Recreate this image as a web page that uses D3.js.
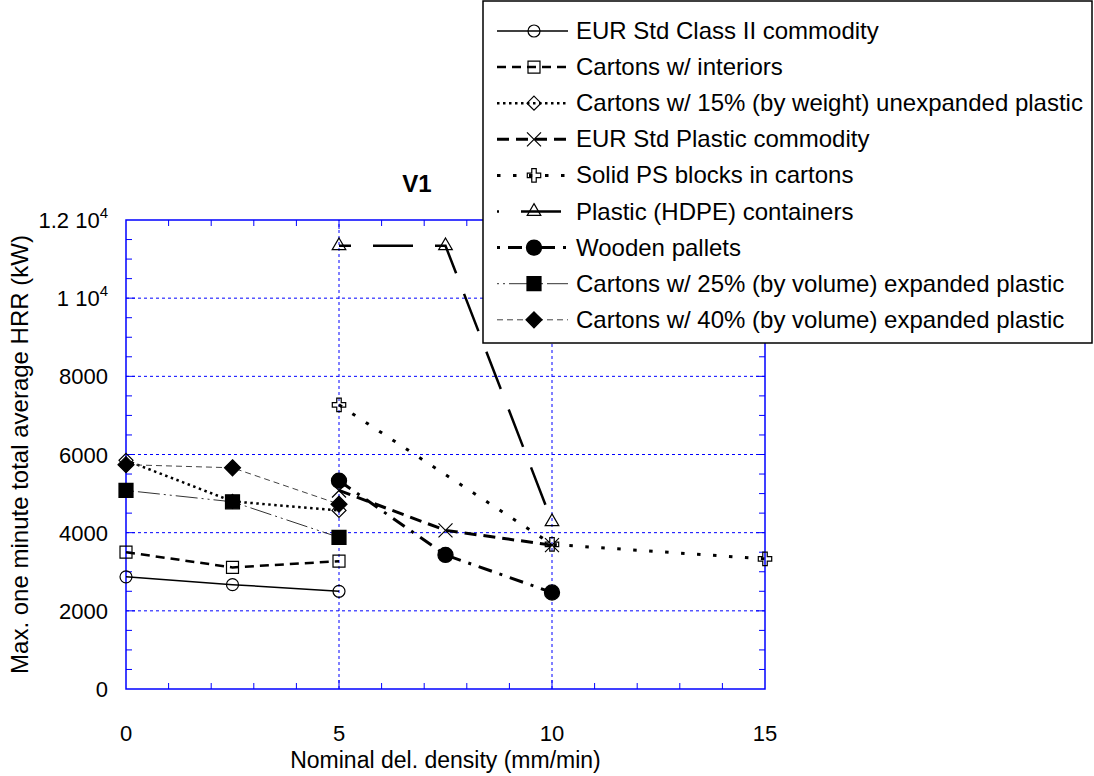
<!DOCTYPE html>
<meta charset="utf-8">
<script src="https://d3js.org/d3.v7.min.js"></script>
<style>
  body { margin: 0; background: #fff; }
  text { font-family: "Liberation Sans", Arial, sans-serif; fill: #000; }
</style>
<div id="chart"></div>
<script>

// data (x: mm/min, y: kW)
var seriesNames = [
  "EUR Std Class II commodity",
  "Cartons w/ interiors",
  "Cartons w/ 15% (by weight) unexpanded plastic",
  "EUR Std Plastic commodity",
  "Solid PS blocks in cartons",
  "Plastic (HDPE) containers",
  "Wooden pallets",
  "Cartons w/ 25% (by volume) expanded plastic",
  "Cartons w/ 40% (by volume) expanded plastic"
];
var xLow  = [0, 2.5, 5];
var xMid  = [5, 7.5, 10];
var xPS   = [5, 10, 15];
var classII    = [2870, 2670, 2500];
var interiors  = [3500, 3110, 3270];
var unexp15    = [5850, 4800, 4570];
var eurPlastic = [5080, 4060, 3680];
var psBlocks   = [7270, 3700, 3330];
var hdpe       = [11340, 11340, 4280];
var wooden     = [5330, 3430, 2470];
var exp25      = [5080, 4790, 3880];
var exp40      = [5740, 5660, 4730];

var xTicks = [0, 5, 10, 15];
var yTicks = [0, 2000, 4000, 6000, 8000, 10000, 12000];

// styles for each series (off = dash offset in plot, loff = in legend)
var series = [
  {x: xLow, y: classII,    mark: "circle",  dash: null,           w: 1.5, col: "#000"},
  {x: xLow, y: interiors,  mark: "square",  dash: "9,6",          w: 2.5, col: "#000"},
  {x: xLow, y: unexp15,    mark: "diamond", dash: "2.5,3.5",      w: 2.5, col: "#000"},
  {x: xMid, y: eurPlastic, mark: "times",   dash: "12,7",         w: 3,   col: "#000"},
  {x: xPS,  y: psBlocks,   mark: "cross",   dash: "3.5,12.5",     w: 3,   col: "#000"},
  {x: xMid, y: hdpe,       mark: "triangle",dash: "40,22",        w: 2.5, col: "#000", off: 28, loff: 38},
  {x: xMid, y: wooden,     mark: "dot",     dash: "14,8,3,8",     w: 3,   col: "#000", loff: 22},
  {x: xLow, y: exp25,      mark: "fsquare", dash: "2,4,2,4,22,4", w: 1,   col: "#333"},
  {x: xLow, y: exp40,      mark: "fdiamond",dash: "6,4",          w: 1,   col: "#444"}
];

var W = 1094, H = 776;
var svg = d3.select("#chart").append("svg")
    .attr("width", W).attr("height", H);

var x = d3.scaleLinear().domain([0, 15]).range([126, 765]);
var y = d3.scaleLinear().domain([0, 12000]).range([689, 220]);

// grid lines
var grid = svg.append("g")
    .attr("stroke", "#0000ff").attr("stroke-width", 1).attr("stroke-dasharray", "3,3");
[2000, 4000, 6000, 8000, 10000].forEach(function(v) {
  grid.append("line").attr("x1", x(0)).attr("x2", x(15)).attr("y1", y(v)).attr("y2", y(v));
});
[5, 10].forEach(function(v) {
  grid.append("line").attr("x1", x(v)).attr("x2", x(v)).attr("y1", y(0)).attr("y2", y(12000));
});

// frame and inside ticks
var frame = svg.append("g").attr("stroke", "#0000ff").attr("stroke-width", 1.5).attr("fill", "none");
frame.append("rect")
    .attr("x", x(0)).attr("y", y(12000))
    .attr("width", x(15) - x(0)).attr("height", y(0) - y(12000));
d3.range(1, 15).forEach(function(v) {
  var len = v % 5 == 0 ? 9 : 6;
  frame.append("line").attr("x1", x(v)).attr("x2", x(v)).attr("y1", y(0)).attr("y2", y(0) - len).attr("stroke-width", 1);
  frame.append("line").attr("x1", x(v)).attr("x2", x(v)).attr("y1", y(12000)).attr("y2", y(12000) + len).attr("stroke-width", 1);
});
d3.range(500, 12000, 500).forEach(function(v) {
  var len = v % 2000 == 0 ? 9 : 6;
  frame.append("line").attr("x1", x(0)).attr("x2", x(0) + len).attr("y1", y(v)).attr("y2", y(v)).attr("stroke-width", 1);
  frame.append("line").attr("x1", x(15)).attr("x2", x(15) - len).attr("y1", y(v)).attr("y2", y(v)).attr("stroke-width", 1);
});

// tick labels
svg.append("g").selectAll("text").data(xTicks).enter().append("text")
    .attr("x", function(d) { return x(d); })
    .attr("y", 741)
    .attr("text-anchor", "middle")
    .style("font-size", "22px")
    .text(function(d) { return d; });

var yl = svg.append("g").selectAll("text").data(yTicks).enter().append("text")
    .attr("x", 108)
    .attr("y", function(d) { return y(d) + 8; })
    .attr("text-anchor", "end")
    .style("font-size", "22px");
yl.each(function(d) {
  var t = d3.select(this);
  if (d >= 10000) {
    t.append("tspan").text((d / 10000) + " 10");
    t.append("tspan").attr("dy", -10).style("font-size", "15px").text("4");
  } else {
    t.text(d);
  }
});

// axis titles
svg.append("text")
    .attr("x", (x(0) + x(15)) / 2)
    .attr("y", 768)
    .attr("text-anchor", "middle")
    .style("font-size", "23px")
    .text("Nominal del. density (mm/min)");

svg.append("text")
    .attr("transform", "translate(28," + y(6000) + ") rotate(-90)")
    .attr("text-anchor", "middle")
    .style("font-size", "24px")
    .text("Max. one minute total average HRR (kW)");

svg.append("text")
    .attr("x", 417).attr("y", 192)
    .attr("text-anchor", "middle")
    .style("font-size", "24px").style("font-weight", "bold")
    .text("V1");

// markers
function drawMarker(g, type, cx, cy) {
  var p = g.append("path").attr("transform", "translate(" + cx + "," + cy + ")")
      .attr("stroke", "#000").attr("stroke-width", 1.2);
  if (type == "circle") p.attr("d", d3.symbol(d3.symbolCircle, 113)()).attr("fill", "none");
  if (type == "dot") p.attr("d", d3.symbol(d3.symbolCircle, 180)()).attr("fill", "#000");
  if (type == "square") p.attr("d", d3.symbol(d3.symbolSquare, 144)()).attr("fill", "none");
  if (type == "fsquare") p.attr("d", d3.symbol(d3.symbolSquare, 196)()).attr("fill", "#000");
  if (type == "diamond") p.attr("d", "M0,-7L7,0L0,7L-7,0Z").attr("fill", "none");
  if (type == "fdiamond") p.attr("d", "M0,-8L8,0L0,8L-8,0Z").attr("fill", "#000");
  if (type == "triangle") p.attr("d", d3.symbol(d3.symbolTriangle, 80)()).attr("fill", "none");
  if (type == "cross") p.attr("d", d3.symbol(d3.symbolCross, 100)()).attr("fill", "none");
  if (type == "times") p.attr("d", "M-7,-7L7,7M-7,7L7,-7").attr("fill", "none");
}

var line = d3.line()
    .x(function(d) { return x(d[0]); })
    .y(function(d) { return y(d[1]); });

var plot = svg.append("g");
series.forEach(function(s) {
  var pts = s.x.map(function(v, i) { return [v, s.y[i]]; });
  plot.append("path")
      .attr("d", line(pts))
      .attr("fill", "none")
      .attr("stroke", s.col)
      .attr("stroke-width", s.w)
      .attr("stroke-dasharray", s.dash)
      .attr("stroke-dashoffset", s.off || 0);
});
series.forEach(function(s) {
  s.x.forEach(function(v, i) { drawMarker(plot, s.mark, x(v), y(s.y[i])); });
});

// legend
var leg = svg.append("g");
leg.append("rect")
    .attr("x", 483).attr("y", 1).attr("width", 609).attr("height", 342)
    .attr("fill", "#fff").attr("stroke", "#000").attr("stroke-width", 1.5);
series.forEach(function(s, i) {
  var ly = 31 + i * 36.1;
  leg.append("line")
      .attr("x1", 497).attr("x2", 568).attr("y1", ly).attr("y2", ly)
      .attr("stroke", s.col).attr("stroke-width", s.w)
      .attr("stroke-dasharray", s.dash)
      .attr("stroke-dashoffset", s.loff || 0);
  drawMarker(leg, s.mark, 534, ly);
  leg.append("text")
      .attr("x", 576).attr("y", ly + 8)
      .style("font-size", "24px")
      .text(seriesNames[i]);
});

</script>
